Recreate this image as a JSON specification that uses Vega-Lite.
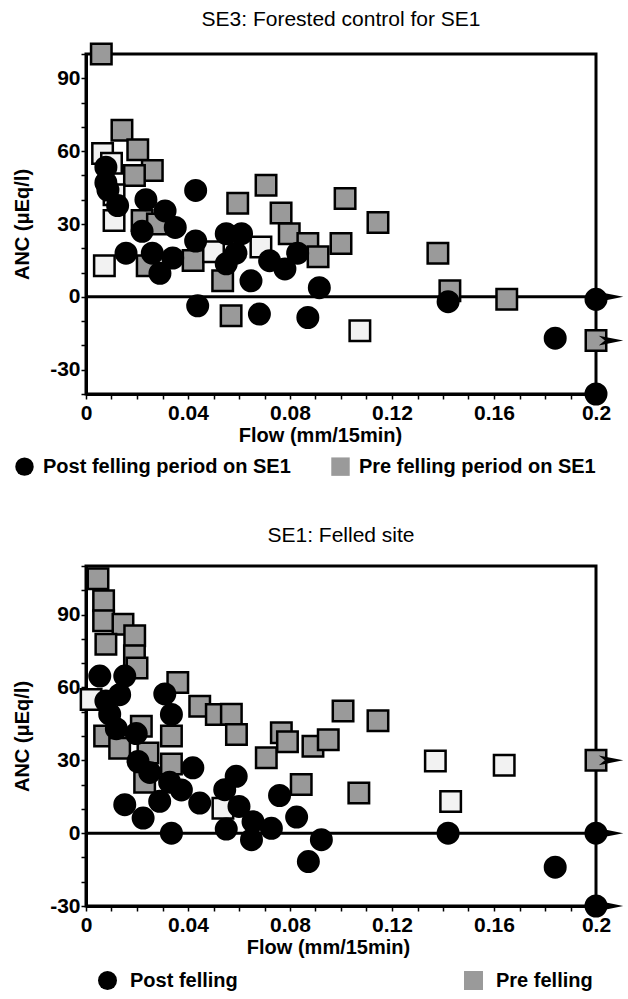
{
  "$schema": "https://vega.github.io/schema/vega-lite/v6.json",
  "padding": {"left": 11, "top": 7, "right": 0, "bottom": 0},
  "background": "white",
  "config": {
    "font": "Liberation Sans",
    "view": {"stroke": "black", "strokeWidth": 3},
    "title": {"fontSize": 21, "fontWeight": "normal", "color": "black", "offset": 9, "anchor": "middle"},
    "axis": {
      "domainColor": "black", "domainWidth": 3, "tickColor": "black", "tickWidth": 1.5, "tickSize": 5,
      "labelColor": "black", "labelFontSize": 21, "labelFontWeight": "bold", "labelFlush": false, "labelOverlap": false,
      "titleColor": "black", "titleFontSize": 20, "titleFontWeight": "bold", "grid": false, "tickCount": 50
    },
    "legend": {"labelColor": "black", "labelFontSize": 20, "labelFontWeight": "bold", "labelLimit": 500, "padding": 0, "symbolStrokeColor": "black", "symbolStrokeWidth": 2}
  },
  "datasets": {
    "se3": [
      {"series": "Pre felling period on SE1", "flow": 0.006, "anc": 100},
      {"series": "Pre felling period on SE1", "flow": 0.0141, "anc": 68.6},
      {"series": "Pre felling period on SE1", "flow": 0.0203, "anc": 60.6},
      {"series": "Pre felling period on SE1 (open)", "flow": 0.0065, "anc": 59},
      {"series": "Pre felling period on SE1 (open)", "flow": 0.010, "anc": 55},
      {"series": "Pre felling period on SE1", "flow": 0.026, "anc": 52},
      {"series": "Pre felling period on SE1", "flow": 0.019, "anc": 50},
      {"series": "Pre felling period on SE1 (open)", "flow": 0.011, "anc": 42},
      {"series": "Pre felling period on SE1 (open)", "flow": 0.011, "anc": 31.4},
      {"series": "Pre felling period on SE1", "flow": 0.022, "anc": 31.4},
      {"series": "Pre felling period on SE1", "flow": 0.028, "anc": 30},
      {"series": "Pre felling period on SE1 (open)", "flow": 0.0072, "anc": 12.8},
      {"series": "Pre felling period on SE1", "flow": 0.024, "anc": 12.8},
      {"series": "Pre felling period on SE1", "flow": 0.042, "anc": 15},
      {"series": "Pre felling period on SE1 (open)", "flow": 0.050, "anc": 18.6},
      {"series": "Pre felling period on SE1", "flow": 0.0536, "anc": 6.6},
      {"series": "Pre felling period on SE1", "flow": 0.0595, "anc": 38.5},
      {"series": "Pre felling period on SE1", "flow": 0.0706, "anc": 46},
      {"series": "Pre felling period on SE1 (open)", "flow": 0.0686, "anc": 20.5},
      {"series": "Pre felling period on SE1", "flow": 0.0765, "anc": 34.5},
      {"series": "Pre felling period on SE1", "flow": 0.0797, "anc": 26},
      {"series": "Pre felling period on SE1", "flow": 0.087, "anc": 22},
      {"series": "Pre felling period on SE1", "flow": 0.091, "anc": 16.5},
      {"series": "Pre felling period on SE1", "flow": 0.0569, "anc": -7.8},
      {"series": "Pre felling period on SE1", "flow": 0.1016, "anc": 40.5},
      {"series": "Pre felling period on SE1", "flow": 0.100, "anc": 22},
      {"series": "Pre felling period on SE1", "flow": 0.1145, "anc": 30.6},
      {"series": "Pre felling period on SE1", "flow": 0.138, "anc": 18},
      {"series": "Pre felling period on SE1", "flow": 0.1427, "anc": 2.5},
      {"series": "Pre felling period on SE1", "flow": 0.165, "anc": -1},
      {"series": "Pre felling period on SE1 (open)", "flow": 0.1074, "anc": -14},
      {"series": "Pre felling period on SE1", "flow": 0.2, "anc": -18},
      {"series": "Post felling period on SE1", "flow": 0.0078, "anc": 53.4},
      {"series": "Post felling period on SE1", "flow": 0.0078, "anc": 47},
      {"series": "Post felling period on SE1", "flow": 0.0086, "anc": 44},
      {"series": "Post felling period on SE1", "flow": 0.043, "anc": 43.8},
      {"series": "Post felling period on SE1", "flow": 0.0124, "anc": 37.6},
      {"series": "Post felling period on SE1", "flow": 0.0235, "anc": 40},
      {"series": "Post felling period on SE1", "flow": 0.031, "anc": 35.4},
      {"series": "Post felling period on SE1", "flow": 0.035, "anc": 28.6},
      {"series": "Post felling period on SE1", "flow": 0.022, "anc": 27},
      {"series": "Post felling period on SE1", "flow": 0.043, "anc": 23},
      {"series": "Post felling period on SE1", "flow": 0.0157, "anc": 18},
      {"series": "Post felling period on SE1", "flow": 0.026, "anc": 18},
      {"series": "Post felling period on SE1", "flow": 0.029, "anc": 9.7},
      {"series": "Post felling period on SE1", "flow": 0.034, "anc": 16},
      {"series": "Post felling period on SE1", "flow": 0.055, "anc": 26},
      {"series": "Post felling period on SE1", "flow": 0.061, "anc": 26},
      {"series": "Post felling period on SE1", "flow": 0.0588, "anc": 18},
      {"series": "Post felling period on SE1", "flow": 0.055, "anc": 13.6},
      {"series": "Post felling period on SE1", "flow": 0.0647, "anc": 6.6},
      {"series": "Post felling period on SE1", "flow": 0.072, "anc": 14.9},
      {"series": "Post felling period on SE1", "flow": 0.078, "anc": 11.5},
      {"series": "Post felling period on SE1", "flow": 0.083, "anc": 18},
      {"series": "Post felling period on SE1", "flow": 0.0915, "anc": 3.8},
      {"series": "Post felling period on SE1", "flow": 0.0438, "anc": -3.7},
      {"series": "Post felling period on SE1", "flow": 0.068, "anc": -7.1},
      {"series": "Post felling period on SE1", "flow": 0.087, "anc": -8.5},
      {"series": "Post felling period on SE1", "flow": 0.142, "anc": -2},
      {"series": "Post felling period on SE1", "flow": 0.184, "anc": -17},
      {"series": "Post felling period on SE1", "flow": 0.2, "anc": -1},
      {"series": "Post felling period on SE1", "flow": 0.2, "anc": -40}
    ],
    "se3arrows": [
      {"flow": 0.2, "anc": 0},
      {"flow": 0.2, "anc": -18}
    ],
    "se1": [
      {"series": "Pre felling", "flow": 0.0047, "anc": 104.7},
      {"series": "Pre felling", "flow": 0.0069, "anc": 95.7},
      {"series": "Pre felling", "flow": 0.0069, "anc": 87.5},
      {"series": "Pre felling", "flow": 0.0145, "anc": 86},
      {"series": "Pre felling", "flow": 0.0078, "anc": 77.8},
      {"series": "Pre felling", "flow": 0.0191, "anc": 81.3},
      {"series": "Pre felling", "flow": 0.019, "anc": 73},
      {"series": "Pre felling", "flow": 0.020, "anc": 68},
      {"series": "Pre felling (open)", "flow": 0.002, "anc": 55},
      {"series": "Pre felling", "flow": 0.036, "anc": 62},
      {"series": "Pre felling", "flow": 0.0446, "anc": 52.3},
      {"series": "Pre felling", "flow": 0.0511, "anc": 48.9},
      {"series": "Pre felling", "flow": 0.057, "anc": 49},
      {"series": "Pre felling", "flow": 0.059, "anc": 40.6},
      {"series": "Pre felling", "flow": 0.0073, "anc": 40},
      {"series": "Pre felling", "flow": 0.0217, "anc": 44},
      {"series": "Pre felling", "flow": 0.0335, "anc": 40},
      {"series": "Pre felling", "flow": 0.0132, "anc": 35},
      {"series": "Pre felling", "flow": 0.0243, "anc": 33},
      {"series": "Pre felling", "flow": 0.0335, "anc": 28.5},
      {"series": "Pre felling", "flow": 0.023, "anc": 21},
      {"series": "Pre felling", "flow": 0.0707, "anc": 31},
      {"series": "Pre felling", "flow": 0.0766, "anc": 41.3},
      {"series": "Pre felling", "flow": 0.079, "anc": 37.6},
      {"series": "Pre felling", "flow": 0.089, "anc": 35.8},
      {"series": "Pre felling", "flow": 0.0844, "anc": 20},
      {"series": "Pre felling", "flow": 0.095, "anc": 38.5},
      {"series": "Pre felling", "flow": 0.1008, "anc": 50.3},
      {"series": "Pre felling", "flow": 0.1145, "anc": 46.3},
      {"series": "Pre felling", "flow": 0.107, "anc": 16.5},
      {"series": "Pre felling (open)", "flow": 0.0537, "anc": 10.3},
      {"series": "Pre felling (open)", "flow": 0.143, "anc": 13},
      {"series": "Pre felling (open)", "flow": 0.137, "anc": 29.7},
      {"series": "Pre felling (open)", "flow": 0.164, "anc": 28},
      {"series": "Pre felling", "flow": 0.2, "anc": 30},
      {"series": "Post felling", "flow": 0.0054, "anc": 64.7},
      {"series": "Post felling", "flow": 0.0152, "anc": 64.7},
      {"series": "Post felling", "flow": 0.0078, "anc": 54.4},
      {"series": "Post felling", "flow": 0.0132, "anc": 57},
      {"series": "Post felling", "flow": 0.0093, "anc": 49},
      {"series": "Post felling", "flow": 0.0119, "anc": 43},
      {"series": "Post felling", "flow": 0.0197, "anc": 41},
      {"series": "Post felling", "flow": 0.0309, "anc": 57.3},
      {"series": "Post felling", "flow": 0.0335, "anc": 48.9},
      {"series": "Post felling", "flow": 0.0204, "anc": 29.5},
      {"series": "Post felling", "flow": 0.025, "anc": 25},
      {"series": "Post felling", "flow": 0.0289, "anc": 13.1},
      {"series": "Post felling", "flow": 0.0152, "anc": 11.7},
      {"series": "Post felling", "flow": 0.0224, "anc": 6.2},
      {"series": "Post felling", "flow": 0.0328, "anc": 21},
      {"series": "Post felling", "flow": 0.0374, "anc": 17.8},
      {"series": "Post felling", "flow": 0.0419, "anc": 26.9},
      {"series": "Post felling", "flow": 0.0446, "anc": 12.4},
      {"series": "Post felling", "flow": 0.0335, "anc": 0},
      {"series": "Post felling", "flow": 0.0544, "anc": 17.9},
      {"series": "Post felling", "flow": 0.0589, "anc": 23.4},
      {"series": "Post felling", "flow": 0.060, "anc": 11},
      {"series": "Post felling", "flow": 0.055, "anc": 1.7},
      {"series": "Post felling", "flow": 0.0655, "anc": 4.7},
      {"series": "Post felling", "flow": 0.0649, "anc": -2.7},
      {"series": "Post felling", "flow": 0.0727, "anc": 2},
      {"series": "Post felling", "flow": 0.0759, "anc": 15.5},
      {"series": "Post felling", "flow": 0.0826, "anc": 6.6},
      {"series": "Post felling", "flow": 0.0923, "anc": -2.7},
      {"series": "Post felling", "flow": 0.0872, "anc": -11.7},
      {"series": "Post felling", "flow": 0.142, "anc": 0},
      {"series": "Post felling", "flow": 0.184, "anc": -14},
      {"series": "Post felling", "flow": 0.2, "anc": 0},
      {"series": "Post felling", "flow": 0.2, "anc": -30}
    ],
    "se1arrows": [
      {"flow": 0.2, "anc": 30},
      {"flow": 0.2, "anc": 0},
      {"flow": 0.2, "anc": -30}
    ]
  },
  "columns": 1,
  "align": "none",
  "spacing": 41,
  "resolve": {"scale": {"x": "independent", "y": "independent", "fill": "independent", "shape": "independent"}, "legend": {"fill": "independent", "shape": "independent"}},
  "concat": [
    {
      "width": 510,
      "height": 340,
      "title": {"text": "SE3: Forested control for SE1"},
      "layer": [
        {
          "data": {"values": [{}]},
          "mark": {"type": "rule", "color": "black", "strokeWidth": 3},
          "encoding": {"y": {"datum": 0, "type": "quantitative"}}
        },
        {
          "data": {"name": "se3"},
          "mark": {"type": "point", "filled": true, "opacity": 1, "size": 420},
          "encoding": {
            "x": {"field": "flow", "type": "quantitative", "scale": {"domain": [0, 0.2], "nice": false, "zero": false},
              "axis": {"title": "Flow (mm/15min)", "values": [0,0.01,0.02,0.03,0.04,0.05,0.06,0.07,0.08,0.09,0.1,0.11,0.12,0.13,0.14,0.15,0.16,0.17,0.18,0.19,0.2],
                "tickCount": 50, "format": ".2~f", "labelExpr": "round(datum.value*100) % 4 === 0 ? datum.label : ''", "labelOverlap": false, "labelPadding": 3, "titlePadding": 2, "titleX": 234}},
            "y": {"field": "anc", "type": "quantitative", "scale": {"domain": [-40, 100], "nice": false, "zero": false},
              "axis": {"title": "ANC (μEq/l)", "values": [-40,-30,-20,-10,0,10,20,30,40,50,60,70,80,90,100],
                "tickCount": 50, "labelExpr": "datum.value % 30 === 0 ? replace(datum.label, '−', '-') : ''", "labelOverlap": false, "labelPadding": 1, "titlePadding": 17}},
            "stroke": {"value": "black"},
            "strokeWidth": {"value": 2.5},
            "shape": {"field": "series", "type": "nominal",
              "scale": {"domain": ["Post felling period on SE1", "Pre felling period on SE1", "Pre felling period on SE1 (open)"], "range": ["circle", "square", "square"]},
              "legend": {"orient": "none", "legendX": -72, "legendY": 402, "direction": "horizontal", "title": null,
                "values": ["Post felling period on SE1", "Pre felling period on SE1"], "symbolSize": 340, "labelOffset": 8, "columnPadding": 36}},
            "fill": {"field": "series", "type": "nominal",
              "scale": {"domain": ["Post felling period on SE1", "Pre felling period on SE1", "Pre felling period on SE1 (open)"], "range": ["black", "#9a9a9a", "#f2f2f2"]},
              "legend": {"orient": "none", "legendX": -72, "legendY": 402, "direction": "horizontal", "title": null,
                "values": ["Post felling period on SE1", "Pre felling period on SE1"], "symbolSize": 340, "labelOffset": 8, "columnPadding": 36}}
          }
        },
        {
          "data": {"name": "se3arrows"},
          "mark": {"type": "point", "shape": "M-1,-0.4L1,0L-1,0.4L-0.5,0Z", "filled": true, "fill": "black", "strokeWidth": 0, "size": 600, "xOffset": 15, "opacity": 1},
          "encoding": {
            "x": {"field": "flow", "type": "quantitative"},
            "y": {"field": "anc", "type": "quantitative"}
          }
        }
      ]
    },
    {
      "width": 510,
      "height": 340,
      "title": {"text": "SE1: Felled site"},
      "layer": [
        {
          "data": {"values": [{}]},
          "mark": {"type": "rule", "color": "black", "strokeWidth": 3},
          "encoding": {"y": {"datum": 0, "type": "quantitative"}}
        },
        {
          "data": {"name": "se1"},
          "mark": {"type": "point", "filled": true, "opacity": 1, "size": 420},
          "encoding": {
            "x": {"field": "flow", "type": "quantitative", "scale": {"domain": [0, 0.2], "nice": false, "zero": false},
              "axis": {"title": "Flow (mm/15min)", "values": [0,0.01,0.02,0.03,0.04,0.05,0.06,0.07,0.08,0.09,0.1,0.11,0.12,0.13,0.14,0.15,0.16,0.17,0.18,0.19,0.2],
                "tickCount": 50, "format": ".2~f", "labelExpr": "round(datum.value*100) % 4 === 0 ? datum.label : ''", "labelOverlap": false, "labelPadding": 3, "titlePadding": 2, "titleX": 242}},
            "y": {"field": "anc", "type": "quantitative", "scale": {"domain": [-30, 110], "nice": false, "zero": false},
              "axis": {"title": "ANC (μEq/l)", "values": [-30,-20,-10,0,10,20,30,40,50,60,70,80,90,100,110],
                "tickCount": 50, "labelExpr": "datum.value % 30 === 0 ? replace(datum.label, '−', '-') : ''", "labelOverlap": false, "labelPadding": 1, "titlePadding": 17}},
            "stroke": {"value": "black"},
            "strokeWidth": {"value": 2.5},
            "shape": {"field": "series", "type": "nominal",
              "scale": {"domain": ["Post felling", "Pre felling", "Pre felling (open)"], "range": ["circle", "square", "square"]},
              "legend": {"orient": "none", "legendX": 11, "legendY": 404, "direction": "horizontal", "title": null,
                "values": ["Post felling", "Pre felling"], "symbolSize": 360, "labelOffset": 12, "columnPadding": 222}},
            "fill": {"field": "series", "type": "nominal",
              "scale": {"domain": ["Post felling", "Pre felling", "Pre felling (open)"], "range": ["black", "#9a9a9a", "#f2f2f2"]},
              "legend": {"orient": "none", "legendX": 11, "legendY": 404, "direction": "horizontal", "title": null,
                "values": ["Post felling", "Pre felling"], "symbolSize": 360, "labelOffset": 12, "columnPadding": 222}}
          }
        },
        {
          "data": {"name": "se1arrows"},
          "mark": {"type": "point", "shape": "M-1,-0.4L1,0L-1,0.4L-0.5,0Z", "filled": true, "fill": "black", "strokeWidth": 0, "size": 600, "xOffset": 15, "opacity": 1},
          "encoding": {
            "x": {"field": "flow", "type": "quantitative"},
            "y": {"field": "anc", "type": "quantitative"}
          }
        }
      ]
    }
  ]
}
